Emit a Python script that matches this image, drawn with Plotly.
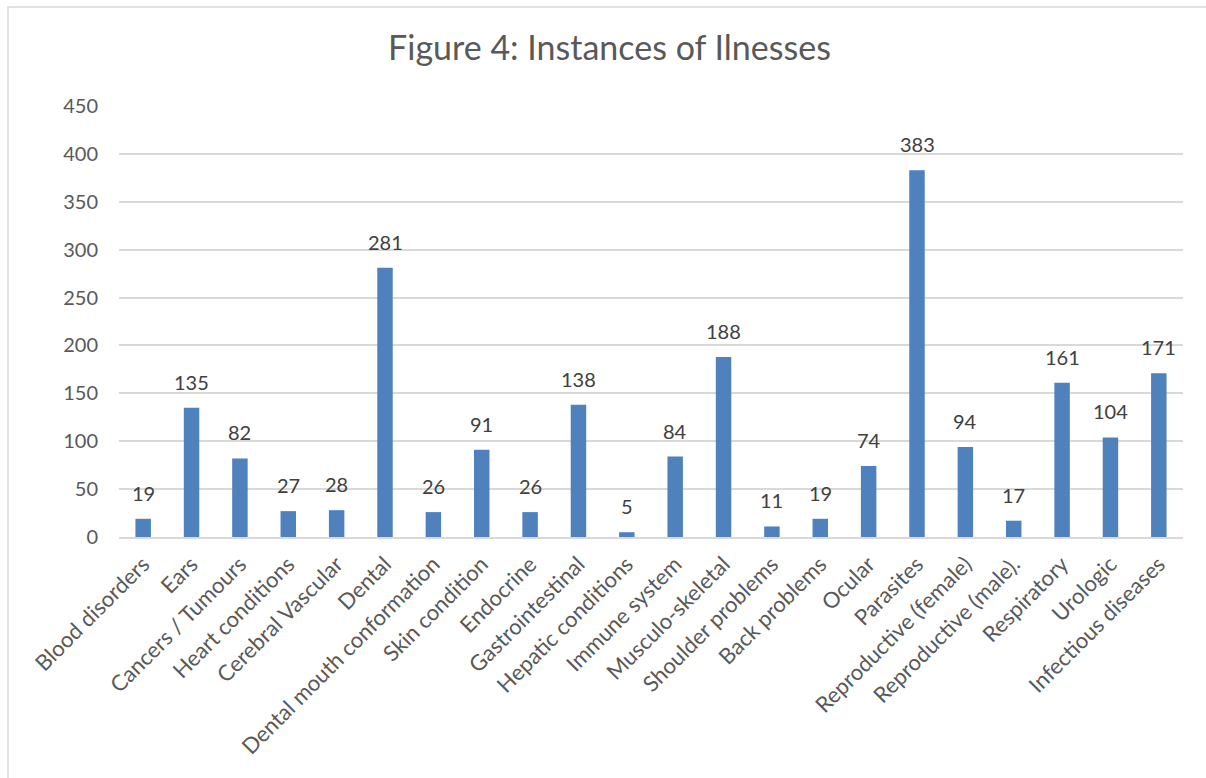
import plotly.graph_objects as go

categories = ["Blood disorders", "Ears", "Cancers / Tumours", "Heart conditions",
              "Cerebral Vascular", "Dental", "Dental mouth conformation", "Skin condition",
              "Endocrine", "Gastrointestinal", "Hepatic conditions", "Immune system",
              "Musculo-skeletal", "Shoulder problems", "Back problems", "Ocular",
              "Parasites", "Reproductive (female)", "Reproductive (male).", "Respiratory",
              "Urologic", "Infectious diseases"]
values = [19, 135, 82, 27, 28, 281, 26, 91, 26, 138, 5, 84, 188, 11, 19, 74,
          383, 94, 17, 161, 104, 171]
y_ticks = [0, 50, 100, 150, 200, 250, 300, 350, 400, 450]
title_text = "Figure 4: Instances of Ilnesses"

W, H = 1206, 778
L, R, T, B = 119, 23, 106, 241

fig = go.Figure()
fig.add_trace(go.Bar(
    x=categories, y=values,
    marker=dict(color="#4F81BD", line=dict(width=0)),
    width=0.32,
))

for c, v in zip(categories, values):
    fig.add_annotation(x=c, y=v, text=str(v), showarrow=False,
                       yanchor="bottom", yshift=12,
                       font=dict(family="Lato", size=20, color="#404040"))

pw = W - L - R
ph = H - T - B
fig.add_shape(type="rect", xref="paper", yref="paper",
              x0=(8 - L) / pw, x1=(W + 5 - L) / pw,
              y0=-(H + 5 - T - ph) / ph, y1=1 + (T - 7) / ph,
              line=dict(color="#D9D9D9", width=1.5), layer="below")

fig.update_layout(
    width=W, height=H,
    margin=dict(l=L, r=R, t=T, b=B, autoexpand=False),
    paper_bgcolor="white", plot_bgcolor="white",
    showlegend=False,
    title=dict(text=title_text, x=609.5 / W, xref="container", xanchor="center",
               y=1 - 48 / H, yref="container", yanchor="middle",
               font=dict(family="Lato", size=34, color="#595959")),
    xaxis=dict(tickangle=-45, tickfont=dict(family="Lato", size=22, color="#595959"),
               showline=True, linecolor="#D9D9D9", linewidth=1.5,
               ticks="", showgrid=False, ticklabelstandoff=4),
    yaxis=dict(range=[0, 450], tickvals=y_ticks,
               tickfont=dict(family="Lato", size=20, color="#595959"),
               showgrid=True, gridcolor="#D9D9D9", gridwidth=1.5,
               zeroline=False, showline=False, ticks="", ticklabelstandoff=20),
    bargap=0.68,
)

fig.write_html("out.html")
